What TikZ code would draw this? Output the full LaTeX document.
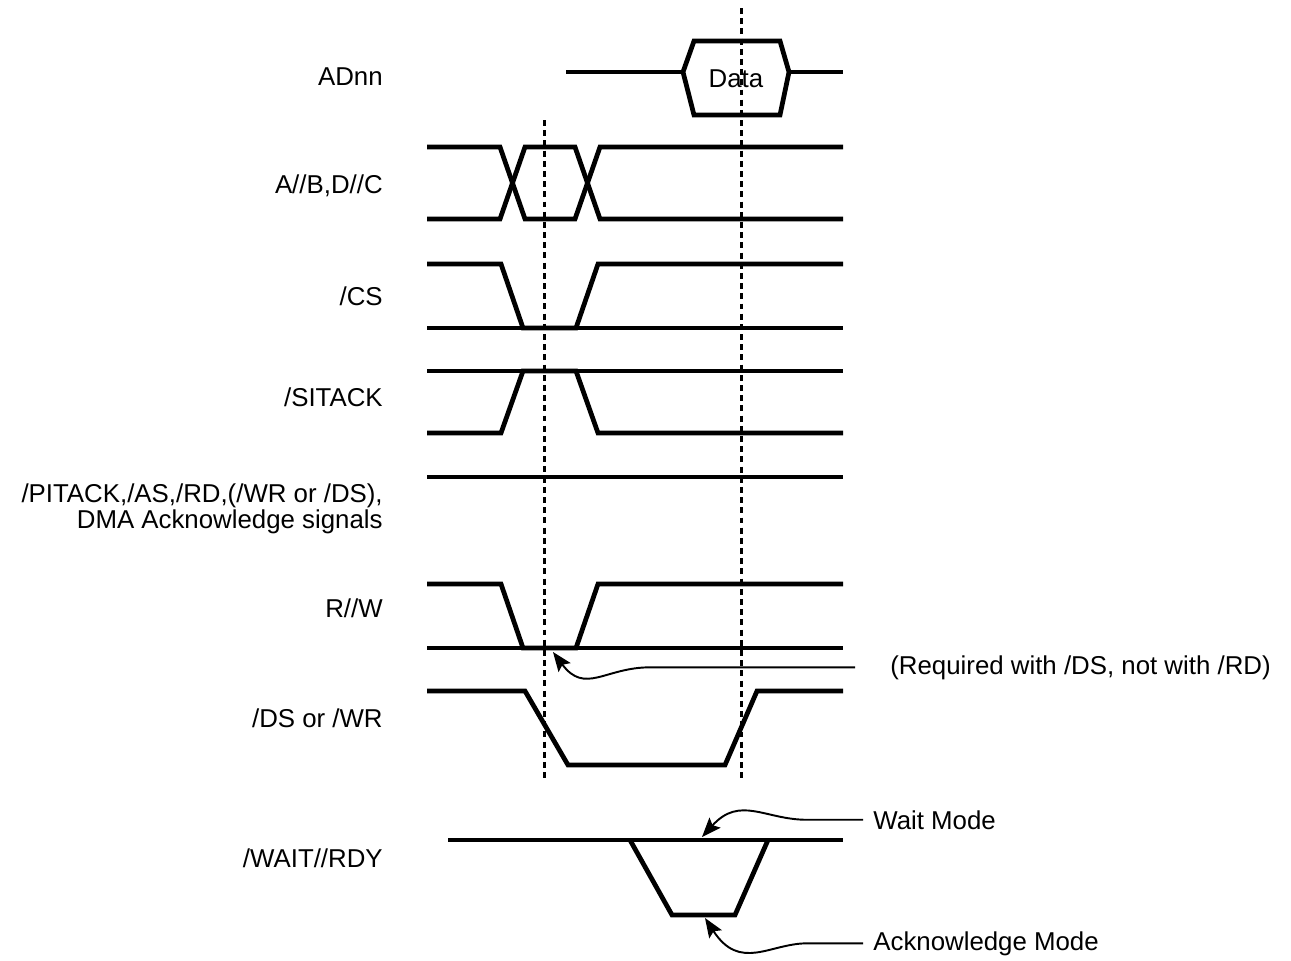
\documentclass[tikz,border=0pt]{standalone}
\usepackage{fontspec}
\setmainfont{Liberation Sans}
\usetikzlibrary{arrows.meta}

\begin{document}
\begin{tikzpicture}[
    x=0.02cm, y=-0.02cm,
    sig/.style={line width=2.7pt},
    guide/.style={line width=1.7pt, dash pattern=on 3.4pt off 2.4pt},
    callout/.style={line width=1.1pt, -{Stealth[length=11pt, width=8.5pt, inset=2pt]}},
    siglabel/.style={anchor=base east, inner sep=0pt, font=\fontsize{14.7}{12.5}\selectfont},
    notelabel/.style={anchor=base west, inner sep=0pt, font=\fontsize{14.7}{12.5}\selectfont}
  ]
    \useasboundingbox (0,0) rectangle (1291,960);

    % Signal names
    \node[siglabel] (adnn) at (383,85) {ADnn};
    \node[siglabel] (ab) at (383,193) {A//B,D//C};
    \node[siglabel] (cs) at (383,305) {/CS};
    \node[siglabel] (sitack) at (383,406) {/SITACK};
    \node[siglabel, anchor=east, align=right] (pitack) at (383,509)
      {/PITACK,/AS,/RD,(/WR or /DS),\\DMA Acknowledge signals};
    \node[siglabel] (rw) at (383,617) {R//W};
    \node[siglabel] (ds) at (383,727) {/DS or /WR};
    \node[siglabel] (wait) at (383,867) {/WAIT//RDY};

    % ADnn
    \draw[sig] (566,72) -- (683,72);
    \draw[sig] (683,72) -- (694,41) -- (780,41) -- (789,72) -- (780,115) -- (694,115) -- cycle;
    \draw[sig] (789,72) -- (843,72);
    \node[font=\fontsize{14.7}{12.5}\selectfont, anchor=base, inner sep=0pt] (data) at (736,87) {Data};

    % A//B,D//C
    \draw[sig] (427,147) -- (500,147) -- (525,219) -- (575,219) -- (600,147) -- (843,147);
    \draw[sig] (427,219) -- (500,219) -- (525,147) -- (575,147) -- (600,219) -- (843,219);

    % /CS
    \draw[sig] (427,264) -- (501,264) -- (523,328) -- (576,328) -- (598,264) -- (843,264);
    \draw[sig] (427,328) -- (843,328);

    % /SITACK
    \draw[sig] (427,371) -- (843,371);
    \draw[sig] (427,433) -- (501,433) -- (523,371) -- (576,371) -- (598,433) -- (843,433);

    % /PITACK ...
    \draw[sig] (427,477) -- (843,477);

    % R//W
    \draw[sig] (427,584) -- (501,584) -- (523,648) -- (576,648) -- (598,584) -- (843,584);
    \draw[sig] (427,648) -- (843,648);

    % /DS or /WR
    \draw[sig] (427,691) -- (525,691) -- (568,765) -- (725,765) -- (757,691) -- (843,691);

    % /WAIT//RDY
    \draw[sig] (448,840) -- (843,840);
    \draw[sig] (630,840) -- (672,915) -- (735,915) -- (768,840);

    % Timing marks
    \draw[guide] (544,120) -- (544,778);
    \draw[guide] (741,8) -- (741,778);

    % Notes
    \node[notelabel] (req) at (890,674) {(Required with /DS, not with /RD)};
    \node[notelabel] (waitmode) at (873,829) {Wait Mode};
    \node[notelabel] (ackmode) at (873,950) {Acknowledge Mode};

    \coordinate (reqtip) at (553,652);
    \coordinate (waittip) at (702,837);
    \coordinate (acktip) at (705,918);

    \draw[callout] ([xshift=-0.7cm]req.west) -- ++(-205,0) .. controls +(-45,0) and +(32,43) .. (reqtip);
    \draw[callout] ([xshift=-0.2cm]waitmode.west) -- ++(-56,0) .. controls +(-42,0) and +(38,-42) .. (waittip);
    \draw[callout] ([xshift=-0.2cm]ackmode.west) -- ++(-56,0) .. controls +(-37,0) and +(35,54) .. (acktip);

  \end{tikzpicture}
\end{document}
